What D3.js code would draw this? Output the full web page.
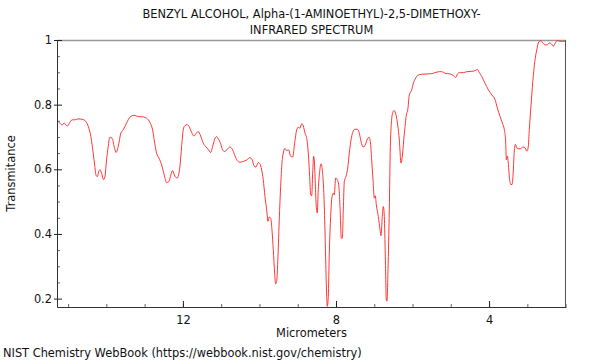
<!DOCTYPE html>
<html><head><meta charset="utf-8">
<script src="https://cdn.jsdelivr.net/npm/d3@7"></script>
<style>body{margin:0;background:#fff}svg{display:block;font-family:"DejaVu Sans",sans-serif}</style>
</head><body>
<svg id="c" width="600" height="360"></svg>
<script>
const titleLines = ["BENZYL ALCOHOL, Alpha-(1-AMINOETHYL)-2,5-DIMETHOXY-", "INFRARED SPECTRUM"];
const xLabel = "Micrometers";
const yLabel = "Transmitance";
const credit = "NIST Chemistry WebBook (https://webbook.nist.gov/chemistry)";
const xDomain = [15.29, 1.99];
const yDomain = [0.174, 1.0];
const xTicks = [12, 8, 4];
const yTicks = [0.2, 0.4, 0.6, 0.8, 1];
const wavelength = [15.276,15.216,15.156,15.103,15.059,15.014,14.954,14.894,14.824,14.737,14.648,14.562,14.518,14.458,14.405,14.345,14.301,14.267,14.230,14.196,14.162,14.126,14.073,14.039,13.995,13.953,13.909,13.848,13.796,13.744,13.692,13.621,13.561,13.472,13.386,13.273,13.169,13.038,12.949,12.863,12.792,12.750,12.688,12.627,12.557,12.489,12.426,12.366,12.314,12.269,12.209,12.149,12.078,12.034,11.992,11.948,11.888,11.835,11.773,11.712,11.660,11.600,11.537,11.469,11.399,11.339,11.276,11.224,11.171,11.119,11.067,11.014,10.962,10.902,10.842,10.771,10.701,10.641,10.580,10.510,10.424,10.335,10.248,10.188,10.144,10.092,10.031,9.987,9.942,9.901,9.856,9.812,9.778,9.744,9.707,9.673,9.639,9.603,9.576,9.550,9.516,9.482,9.446,9.412,9.378,9.333,9.289,9.237,9.184,9.132,9.080,9.027,8.986,8.941,8.897,8.855,8.810,8.758,8.724,8.688,8.661,8.635,8.609,8.583,8.567,8.541,8.515,8.489,8.463,8.426,8.392,8.358,8.322,8.295,8.269,8.243,8.227,8.201,8.175,8.139,8.105,8.071,8.044,8.008,7.966,7.929,7.895,7.861,7.835,7.809,7.783,7.739,7.694,7.652,7.608,7.563,7.503,7.443,7.391,7.346,7.294,7.242,7.190,7.137,7.103,7.067,7.033,6.999,6.973,6.946,6.894,6.850,6.824,6.790,6.763,6.737,6.711,6.685,6.667,6.641,6.607,6.580,6.554,6.518,6.484,6.431,6.387,6.345,6.301,6.267,6.230,6.196,6.162,6.125,6.084,6.021,5.979,5.917,5.864,5.760,5.629,5.498,5.412,5.301,5.237,5.150,5.020,4.933,4.871,4.829,4.776,4.672,4.583,4.452,4.366,4.306,4.253,4.191,4.105,4.018,3.929,3.843,3.783,3.712,3.652,3.601,3.569,3.548,3.521,3.495,3.469,3.432,3.399,3.373,3.346,3.312,3.261,3.190,3.119,3.059,3.015,2.980,2.946,2.909,2.857,2.805,2.753,2.701,2.649,2.597,2.536,2.476,2.424,2.372,2.319,2.267,2.215,2.144,2.074,2.006];
const transmittance = [0.750,0.743,0.737,0.743,0.737,0.734,0.745,0.753,0.753,0.756,0.755,0.751,0.745,0.727,0.701,0.650,0.609,0.580,0.578,0.596,0.598,0.588,0.568,0.576,0.629,0.670,0.699,0.696,0.670,0.652,0.670,0.712,0.722,0.743,0.761,0.767,0.763,0.762,0.758,0.745,0.722,0.691,0.650,0.635,0.614,0.583,0.559,0.562,0.583,0.596,0.578,0.573,0.609,0.670,0.722,0.735,0.738,0.732,0.714,0.703,0.710,0.717,0.703,0.681,0.669,0.662,0.652,0.670,0.693,0.701,0.693,0.679,0.660,0.655,0.662,0.669,0.660,0.642,0.627,0.622,0.624,0.629,0.636,0.629,0.611,0.607,0.621,0.617,0.598,0.568,0.516,0.475,0.439,0.452,0.449,0.413,0.351,0.279,0.246,0.253,0.331,0.444,0.547,0.619,0.650,0.665,0.658,0.660,0.640,0.638,0.681,0.722,0.730,0.727,0.741,0.734,0.712,0.691,0.650,0.578,0.521,0.518,0.588,0.640,0.629,0.557,0.485,0.465,0.537,0.593,0.617,0.598,0.537,0.444,0.320,0.207,0.176,0.207,0.341,0.454,0.514,0.526,0.521,0.573,0.568,0.552,0.485,0.387,0.387,0.475,0.562,0.578,0.604,0.650,0.691,0.714,0.724,0.724,0.712,0.686,0.669,0.673,0.691,0.699,0.686,0.629,0.568,0.511,0.518,0.490,0.454,0.413,0.395,0.454,0.485,0.454,0.331,0.197,0.192,0.290,0.475,0.670,0.743,0.775,0.782,0.768,0.737,0.691,0.619,0.640,0.691,0.732,0.768,0.784,0.830,0.846,0.866,0.882,0.891,0.894,0.895,0.896,0.899,0.902,0.902,0.897,0.895,0.890,0.884,0.894,0.899,0.899,0.902,0.903,0.905,0.909,0.899,0.887,0.866,0.846,0.830,0.815,0.789,0.763,0.743,0.722,0.691,0.630,0.641,0.615,0.574,0.553,0.553,0.584,0.646,0.677,0.664,0.663,0.669,0.666,0.656,0.666,0.728,0.790,0.872,0.934,0.970,0.994,0.998,0.991,0.985,0.985,0.991,0.988,0.981,0.991,0.998,0.996,0.996,0.996];

const FS = 11.4;
const svg = d3.select("#c");
const L = 57, R = 566, T = 40, B = 307;
const x = d3.scaleLinear().domain(xDomain).range([L, R]);
const y = d3.scaleLinear().domain(yDomain).range([B, T]);
const data = wavelength.map((w, i) => [w, transmittance[i]]);

svg.append("clipPath").attr("id", "clip").append("rect")
  .attr("x", L).attr("y", T - 1).attr("width", R - L).attr("height", B - T + 1);

// frame top/right
svg.append("line").attr("x1", L).attr("x2", R).attr("y1", T + 0.5).attr("y2", T + 0.5).attr("stroke", "#999").attr("stroke-width", 1.4);
svg.append("line").attr("x1", R - 0.5).attr("x2", R - 0.5).attr("y1", T).attr("y2", B).attr("stroke", "#555").attr("stroke-width", 1);

// curve
svg.append("path").datum(data)
  .attr("clip-path", "url(#clip)")
  .attr("fill", "none").attr("stroke", "#ff2020").attr("stroke-width", 0.9)
  .attr("d", d3.line().x(d => x(d[0])).y(d => y(d[1])).curve(d3.curveMonotoneX));

// x axis
const minorX = d3.range(2, 16, 1).filter(v => v <= xDomain[0] && v >= xDomain[1]);
const gx = svg.append("g").attr("transform", `translate(0,${B})`);
gx.call(d3.axisBottom(x).tickValues(minorX).tickSize(-3).tickFormat(""))
  .call(g => g.select(".domain").remove())
  .call(g => g.selectAll("line").attr("stroke", "#666"));
const gx2 = svg.append("g").attr("transform", `translate(0,${B})`);
gx2.call(d3.axisBottom(x).tickValues(xTicks).tickSizeInner(-6).tickSizeOuter(0).tickPadding(9).tickFormat(d3.format("d")))
  .call(g => g.select(".domain").attr("stroke", "#333"))
  .call(g => g.selectAll("line").attr("stroke", "#222"))
  .call(g => g.selectAll("text").attr("font-size", FS).attr("fill", "#111").attr("font-family", "DejaVu Sans"));

// y axis
const minorY = d3.range(0.2, 1.0001, 0.05).map(v => +v.toFixed(2)).filter(v => Math.abs(v * 5 - Math.round(v * 5)) > 1e-6);
const gy = svg.append("g").attr("transform", `translate(${L},0)`);
gy.call(d3.axisLeft(y).tickValues(minorY).tickSize(-3).tickFormat(""))
  .call(g => g.select(".domain").remove())
  .call(g => g.selectAll("line").attr("stroke", "#666"));
const gy2 = svg.append("g").attr("transform", `translate(${L},0)`);
gy2.call(d3.axisLeft(y).tickValues(yTicks).tickSizeInner(3).tickSizeOuter(0).tickPadding(2).tickFormat(d => d3.format("~g")(d)))
  .call(g => g.select(".domain").attr("stroke", "#333"))
  .call(g => g.selectAll("line").attr("stroke", "#222").attr("x2", -3).attr("x1", 5))
  .call(g => g.selectAll("text").attr("font-size", FS).attr("fill", "#111").attr("font-family", "DejaVu Sans"));

// texts
const cx = (L + R) / 2;
svg.append("text").attr("x", cx).attr("y", 18).attr("text-anchor", "middle").attr("font-size", FS).attr("fill", "#111").text(titleLines[0]);
svg.append("text").attr("x", cx).attr("y", 34).attr("text-anchor", "middle").attr("font-size", FS).attr("fill", "#111").text(titleLines[1]);
svg.append("text").attr("x", cx).attr("y", 337).attr("text-anchor", "middle").attr("font-size", FS).attr("fill", "#111").text(xLabel);
svg.append("text").attr("transform", `translate(15,${(T + B) / 2}) rotate(-90)`).attr("text-anchor", "middle").attr("font-size", FS).attr("fill", "#111").text(yLabel);
svg.append("text").attr("x", 3).attr("y", 357).attr("font-size", FS).attr("fill", "#111").text(credit);
</script>
</body></html>
